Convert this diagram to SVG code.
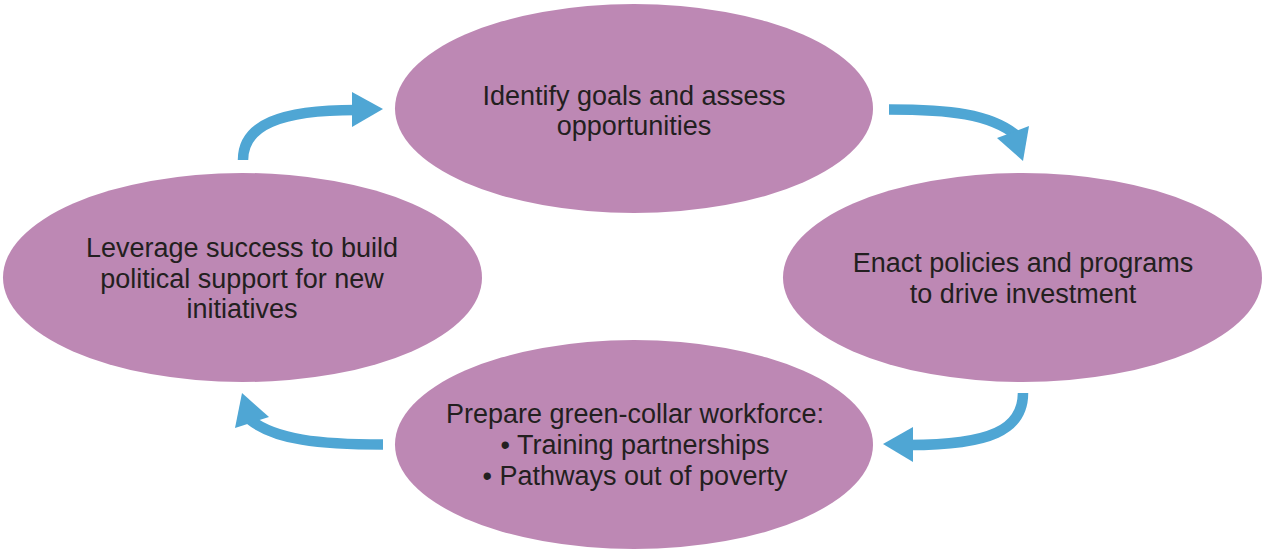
<svg xmlns="http://www.w3.org/2000/svg" width="1264" height="556" viewBox="0 0 1264 556">
<style>
.node{fill:#BD88B4;}
.lbl{font-family:"Liberation Sans",Arial,sans-serif;font-size:27px;fill:#231F20;text-anchor:middle;}
.shaft{fill:none;stroke:#4FA6D4;stroke-width:10.5;}
.head{fill:#4FA6D4;}
</style>
<rect width="1264" height="556" fill="#FFFFFF"/>
<g id="node-identify">
<ellipse class="node" cx="634" cy="108.5" rx="239" ry="104.5"/>
<text class="lbl" x="634" y="105">Identify goals and assess</text>
<text class="lbl" x="634" y="135">opportunities</text>
</g>
<g id="node-enact">
<ellipse class="node" cx="1022.5" cy="277.5" rx="239.5" ry="104.5"/>
<text class="lbl" x="1023" y="272">Enact policies and programs</text>
<text class="lbl" x="1023" y="303">to drive investment</text>
</g>
<g id="node-prepare">
<ellipse class="node" cx="634" cy="444.5" rx="239" ry="104.5"/>
<text class="lbl" x="635" y="423">Prepare green-collar workforce:</text>
<text class="lbl" x="635" y="454">• Training partnerships</text>
<text class="lbl" x="635" y="485">• Pathways out of poverty</text>
</g>
<g id="node-leverage">
<ellipse class="node" cx="242.5" cy="277.5" rx="239.5" ry="104.5"/>
<text class="lbl" x="242" y="257">Leverage success to build</text>
<text class="lbl" x="242" y="288">political support for new</text>
<text class="lbl" x="242" y="318">initiatives</text>
</g>
<g id="connectors">
<path class="shaft" d="M243,160 C243,125 280,110 356,110"/>
<polygon class="head" points="352,92 383,109 352,127"/>
<path class="shaft" d="M889,109.5 C950,109.5 990,114 1016,135"/>
<polygon class="head" points="997,138 1029,126 1023,161"/>
<path class="shaft" d="M1023,393 C1023,430 990,445 909,445"/>
<polygon class="head" points="913,427 883,444 913,462"/>
<path class="shaft" d="M383,444.5 C320,444.5 275,440 249,419"/>
<polygon class="head" points="235,428 269,417 242,393"/>
</g>
</svg>
